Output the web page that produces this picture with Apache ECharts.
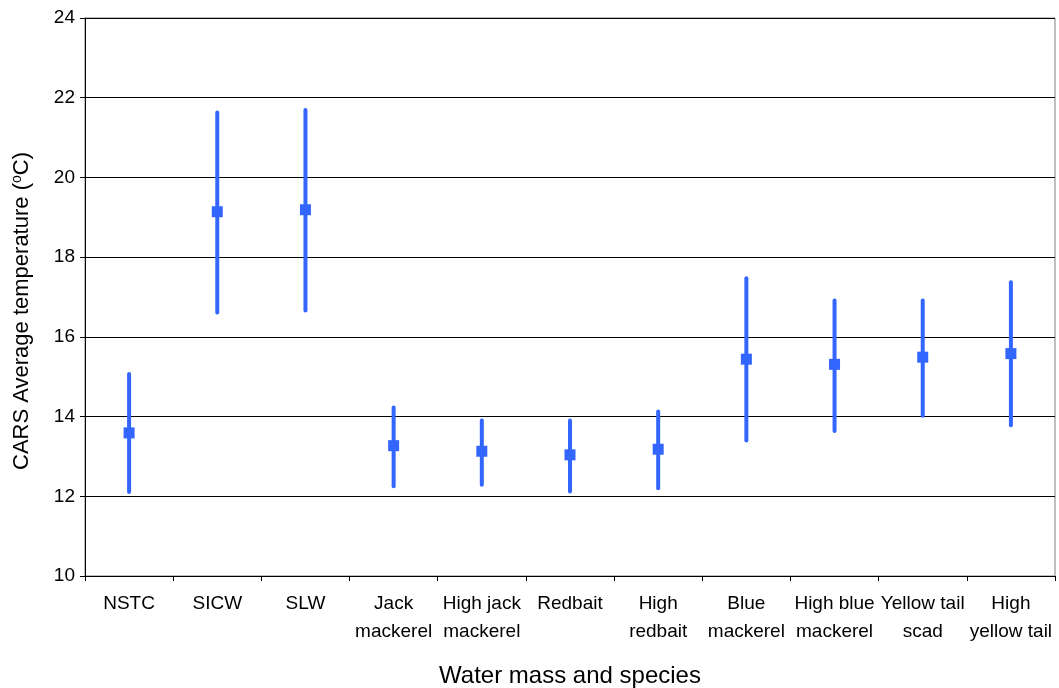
<!DOCTYPE html>
<html>
<head>
<meta charset="utf-8">
<style>
html,body{margin:0;padding:0;background:#fff;}
#chart{width:1059px;height:688px;}
</style>
<script src="https://cdn.jsdelivr.net/npm/echarts@6/dist/echarts.min.js"></script>
</head>
<body>
<div id="chart"></div>
<script>
const categories = ['NSTC','SICW','SLW','Jack\nmackerel','High jack\nmackerel','Redbait','High\nredbait','Blue\nmackerel','High blue\nmackerel','Yellow tail\nscad','High\nyellow tail'];
const meanTemp = [13.59,19.14,19.19,13.27,13.13,13.04,13.18,15.44,15.31,15.49,15.58];
const lowTemp  = [12.11,16.61,16.66,12.25,12.29,12.12,12.20,13.40,13.64,14.02,13.78];
const highTemp = [15.07,21.63,21.69,14.23,13.90,13.90,14.13,17.47,16.91,16.91,17.37];

const FONT = "'Liberation Sans', Arial, sans-serif";
const BLUE = '#3366FF';

const chart = echarts.init(document.getElementById('chart'), null, {renderer:'canvas'});
const errData = categories.map((c,i)=>[i, lowTemp[i], highTemp[i]]);

chart.setOption({
  animation:false,
  backgroundColor:'#fff',
  grid:{left:85, right:4, top:18, bottom:112, show:true, borderColor:'#808080', borderWidth:1, backgroundColor:'transparent'},
  xAxis:{
    type:'category',
    data:categories,
    boundaryGap:true,
    axisLine:{lineStyle:{color:'#000', width:1}},
    axisTick:{show:true, length:5, lineStyle:{color:'#000'}},
    axisLabel:{interval:0, color:'#000', fontFamily:FONT, fontSize:19, lineHeight:28, margin:14},
    splitLine:{show:false}
  },
  yAxis:{
    type:'value',
    min:10, max:24, interval:2,
    axisLine:{show:true, lineStyle:{color:'#000', width:1}},
    axisTick:{show:true, length:5, lineStyle:{color:'#000'}},
    axisLabel:{color:'#000', fontFamily:FONT, fontSize:19, margin:10},
    splitLine:{show:true, lineStyle:{color:'#000', width:1}}
  },
  graphic:[
    {
      type:'text',
      x:570, y:676,
      style:{text:'Water mass and species', fontFamily:FONT, fontSize:24, fill:'#000', align:'center', verticalAlign:'middle'}
    },
    {
      type:'text',
      x:22, y:311,
      rotation:Math.PI/2,
      style:{
        text:'{a|CARS Average temperature (}{s|o}{a|C)}',
        align:'center', verticalAlign:'middle',
        rich:{
          a:{fontFamily:FONT, fontSize:22, fill:'#000', color:'#000'},
          s:{fontFamily:FONT, fontSize:14, fill:'#000', color:'#000', verticalAlign:'top', padding:[0,0,10,0]}
        }
      }
    }
  ],
  series:[
    {
      type:'custom',
      data:errData,
      z:2,
      renderItem:function(params, api){
        const x = api.value(0);
        const p1 = api.coord([x, api.value(1)]);
        const p2 = api.coord([x, api.value(2)]);
        return {
          type:'line',
          shape:{x1:p1[0], y1:p1[1], x2:p2[0], y2:p2[1]},
          style:{stroke:BLUE, lineWidth:4, lineCap:'round'}
        };
      }
    },
    {
      type:'scatter',
      data:meanTemp,
      symbol:'rect',
      symbolSize:11,
      z:3,
      itemStyle:{color:BLUE, opacity:1}
    }
  ]
});
</script>
</body>
</html>
